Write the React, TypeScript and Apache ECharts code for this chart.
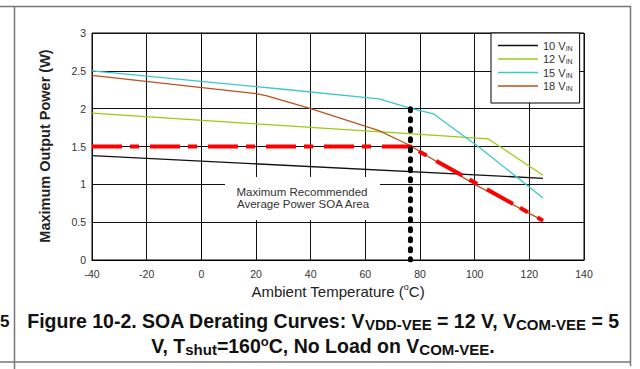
import React, { useEffect, useRef } from 'react';
import * as echarts from 'echarts';

const FONT = '"Liberation Sans", Arial, Helvetica, sans-serif';

// Series names and colours
const seriesNames = ['10 VIN', '12 VIN', '15 VIN', '18 VIN'];
const seriesColors = ['#111111', '#99cc11', '#3cc8cc', '#b9531f'];

// Curves: [ambient temperature °C, max output power W]
const v10 = [[-40, 1.38], [125, 1.08]];
const v12 = [[-40, 1.94], [20, 1.8], [80, 1.66], [105, 1.6], [125, 1.12]];
const v15 = [[-40, 2.5], [29, 2.26], [65, 2.13], [77, 2.0], [85, 1.93], [102, 1.48], [125, 0.82]];
const v18 = [[-40, 2.44], [20, 2.2], [24, 2.17], [40, 2.0], [65, 1.71], [76, 1.52], [100, 1.0], [125, 0.52]];

// Recommended limit (red dashed) and SOA boundary (black dotted)
const limitCurve = [[-40, 1.5], [76.5, 1.5], [125, 0.52]];
const soaBoundary = [[76.5, 2.0], [76.5, 0]];

// Axis ranges
const xRange = { min: -40, max: 140, interval: 20 };
const yRange = { min: 0, max: 3, interval: 0.5 };

const App: React.FC = () => {
  const ref = useRef<HTMLDivElement>(null);

  useEffect(() => {
    if (!ref.current) return;
    const chart = echarts.init(ref.current, null, { renderer: 'svg' });
    const curves = [v10, v12, v15, v18];

    const option: any = {
      animation: false,
      backgroundColor: '#ffffff',
      textStyle: { fontFamily: FONT },
      grid: {
        left: 92,
        top: 33,
        width: 492,
        height: 227,
        show: true,
        borderColor: '#000',
        borderWidth: 1,
        backgroundColor: 'transparent',
      },
      xAxis: {
        type: 'value',
        min: xRange.min,
        max: xRange.max,
        interval: xRange.interval,
        axisLine: { show: true, lineStyle: { color: '#000', width: 1 } },
        axisTick: { show: false },
        splitLine: { show: true, lineStyle: { color: '#111', width: 1 } },
        axisLabel: { color: '#333', fontSize: 10.5, margin: 8, fontFamily: FONT },
      },
      yAxis: {
        type: 'value',
        min: yRange.min,
        max: yRange.max,
        interval: yRange.interval,
        axisLine: { show: true, lineStyle: { color: '#000', width: 1 } },
        axisTick: { show: false },
        splitLine: { show: true, lineStyle: { color: '#111', width: 1 } },
        axisLabel: { color: '#333', fontSize: 10.5, margin: 6, fontFamily: FONT },
      },
      legend: {
        data: seriesNames,
        orient: 'vertical',
        left: 491,
        top: 33,
        padding: [7, 7, 11, 7],
        icon: 'rect',
        itemWidth: 40,
        itemHeight: 1.6,
        itemGap: 2,
        backgroundColor: '#ffffff',
        borderColor: '#000',
        borderWidth: 1,
        borderRadius: 0,
        selectedMode: false,
        formatter: (name: string) => `{a|${name.split(' ')[0]} V}{b|IN}`,
        textStyle: {
          fontFamily: FONT,
          rich: {
            a: { fontSize: 11, color: '#333', lineHeight: 12, fontFamily: FONT },
            b: { fontSize: 7, color: '#333', lineHeight: 8, verticalAlign: 'bottom', fontFamily: FONT },
          },
        },
      },
      series: [
        ...curves.map((d, i) => ({
          name: seriesNames[i],
          type: 'line',
          data: d,
          symbol: 'none',
          z: 3,
          itemStyle: { color: seriesColors[i] },
          lineStyle: { color: seriesColors[i], width: 1.3 },
        })),
        {
          name: 'Limit',
          type: 'line',
          data: limitCurve,
          symbol: 'none',
          z: 4,
          lineStyle: { color: '#ff0000', width: 4, type: [30, 8, 9, 11] },
        },
        {
          name: 'SOA boundary',
          type: 'line',
          data: soaBoundary,
          symbol: 'none',
          z: 5,
          lineStyle: { color: '#000', width: 5, type: [2, 8], cap: 'round' },
        },
      ],
      graphic: [
        // document frame
        { type: 'line', z: 10, shape: { x1: 0, y1: 6.5, x2: 631, y2: 6.5 }, style: { stroke: '#777', lineWidth: 1.5 } },
        { type: 'line', z: 10, shape: { x1: 0, y1: 362, x2: 631, y2: 362 }, style: { stroke: '#777', lineWidth: 1.5 } },
        { type: 'line', z: 10, shape: { x1: 14.5, y1: 6, x2: 14.5, y2: 369 }, style: { stroke: '#777', lineWidth: 1.5 } },
        { type: 'line', z: 10, shape: { x1: 630.5, y1: 6, x2: 630.5, y2: 366 }, style: { stroke: '#777', lineWidth: 1.5 } },
        // annotation
        { type: 'rect', z: 1, shape: { x: 225, y: 177, width: 155, height: 43 }, style: { fill: '#fff' } },
        {
          type: 'text', z: 1, x: 302, y: 191.5,
          style: {
            text: 'Maximum Recommended',
            fill: '#333', font: `11.5px ${FONT}`,
            textAlign: 'center', textVerticalAlign: 'middle',
          },
        },
        {
          type: 'text', z: 1, x: 303, y: 203.5,
          style: {
            text: 'Average Power SOA Area',
            fill: '#333', font: `11.5px ${FONT}`,
            textAlign: 'center', textVerticalAlign: 'middle',
          },
        },
        // axis titles
        {
          type: 'text', x: 338, y: 291,
          style: {
            text: '{m|Ambient Temperature (}{s|o}{m|C)}',
            textAlign: 'center', textVerticalAlign: 'middle',
            rich: {
              m: { fontSize: 15, fontFamily: FONT, fill: '#222', lineHeight: 17 },
              s: { fontSize: 9, fontFamily: FONT, fill: '#222', lineHeight: 10, verticalAlign: 'top' },
            },
          },
        },
        {
          type: 'text', x: 45, y: 146, rotation: Math.PI / 2,
          style: {
            text: 'Maximum Output Power (W)',
            fill: '#222', font: `bold 14.5px ${FONT}`,
            textAlign: 'center', textVerticalAlign: 'middle',
          },
        },
        // caption
        {
          type: 'text', x: 323, y: 321,
          style: {
            text: '{m|Figure 10-2. SOA Derating Curves: V}{s|VDD-VEE}{m| = 12 V, V}{s|COM-VEE}{m| = 5}',
            textAlign: 'center', textVerticalAlign: 'middle',
            rich: {
              m: { fontSize: 19.5, fontWeight: 'bold', fontFamily: FONT, fill: '#111', lineHeight: 22 },
              s: { fontSize: 15, fontWeight: 'bold', fontFamily: FONT, fill: '#111', lineHeight: 12, verticalAlign: 'bottom' },
            },
          },
        },
        {
          type: 'text', x: 323, y: 346,
          style: {
            text: '{m|V, T}{s|shut}{m|=160}{p|o}{m|C, No Load on V}{s|COM-VEE}{m|.}',
            textAlign: 'center', textVerticalAlign: 'middle',
            rich: {
              m: { fontSize: 19.5, fontWeight: 'bold', fontFamily: FONT, fill: '#111', lineHeight: 22 },
              s: { fontSize: 15, fontWeight: 'bold', fontFamily: FONT, fill: '#111', lineHeight: 12, verticalAlign: 'bottom' },
              p: { fontSize: 13, fontWeight: 'bold', fontFamily: FONT, fill: '#111', lineHeight: 13, verticalAlign: 'top' },
            },
          },
        },
        {
          type: 'text', x: 0, y: 321,
          style: { text: '5', fill: '#111', font: `bold 17px ${FONT}`, textAlign: 'left', textVerticalAlign: 'middle' },
        },
      ],
    };

    chart.setOption(option);
    return () => chart.dispose();
  }, []);

  return (
    <div
      ref={ref}
      style={{ position: 'fixed', left: 0, top: 0, width: 640, height: 369, background: '#fff' }}
    />
  );
};

export default App;
